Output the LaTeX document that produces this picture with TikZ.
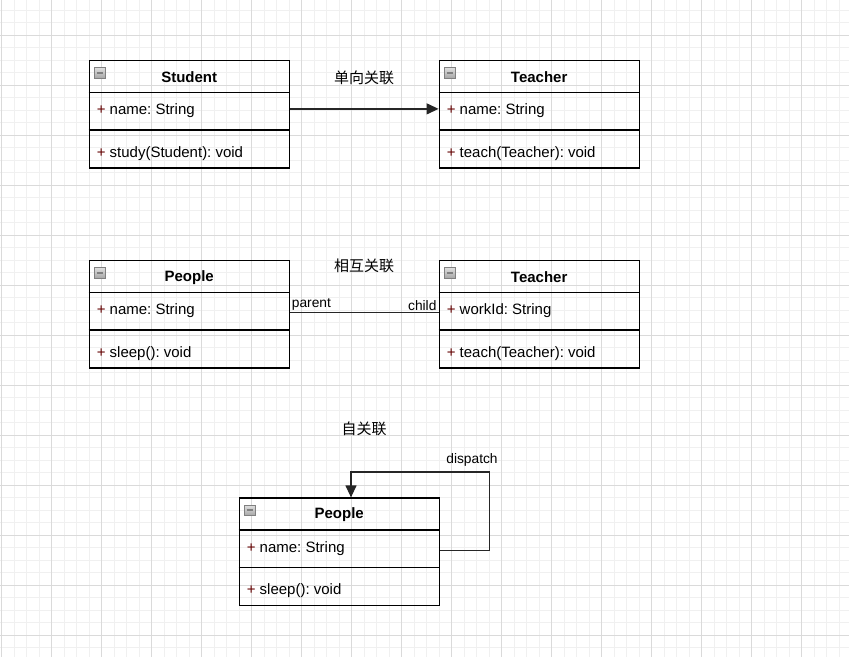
\documentclass[tikz,border=0pt]{standalone}
\usepackage{fontspec}
\setmainfont{Liberation Sans}
\newfontfamily\cjk{Noto Sans CJK SC}
\usetikzlibrary{arrows.meta}
\definecolor{gridminor}{RGB}{240,240,240}
\definecolor{gridmajor}{RGB}{218,218,218}
\definecolor{plusred}{RGB}{100,0,0}
\newcommand{\umlplus}{\textcolor{plusred}{+}}
\frenchspacing
\begin{document}
\begin{tikzpicture}[x=1pt,y=-1pt,
  cls/.style={draw, line width=1.25pt, minimum width=200pt, minimum height=107.5pt, inner sep=0pt},
  ttl/.style={font=\fontsize{15}{18}\selectfont\bfseries, inner sep=0pt},
  mbr/.style={anchor=west, inner sep=0pt, font=\fontsize{15}{18}\selectfont},
  ico/.style={draw=gray, top color=gray!25, bottom color=gray!70, minimum size=10.5pt, inner sep=0pt,
    path picture={\draw[line width=1.8pt] ([xshift=-3pt]path picture bounding box.center) -- ([xshift=3pt]path picture bounding box.center);}},
  assoc/.style={line width=1.25pt, draw=black!85},
  headarr/.style={-{Triangle[length=12pt,width=11pt]}},
  lbl/.style={font=\fontsize{13.75}{16}\selectfont, inner sep=1.5pt},
  cn/.style={font=\cjk\fontsize{15}{18}\selectfont}]
\useasboundingbox (0,0) rectangle (849,657);
\fill[white] (0,0) rectangle (849,657);
% grid
\foreach \gx in {1.7,14.2,...,849} \draw[gridminor, line width=1pt] (\gx,0) -- (\gx,657);
\foreach \gy in {10,22.5,...,657} \draw[gridminor, line width=1pt] (0,\gy) -- (849,\gy);
\foreach \gx in {1.7,51.7,...,849} \draw[gridmajor, line width=1pt] (\gx,0) -- (\gx,657);
\foreach \gy in {35,85,...,657} \draw[gridmajor, line width=1pt] (0,\gy) -- (849,\gy);

% Student
\node[cls] (stu) at (189.2,114.25) {};
\draw[line width=1.25pt] ([yshift=-32.5pt]stu.north west) -- ([yshift=-32.5pt]stu.north east);
\draw[line width=1.25pt] ([yshift=-70pt]stu.north west) -- ([yshift=-70pt]stu.north east);
\node[ico] (stuIco) at ([xshift=11pt,yshift=-13pt]stu.north west) {};
\node[ttl] (stuTtl) at ([yshift=-17.5pt]stu.north) {Student};
\node[mbr] (stuAttr) at ([xshift=8pt,yshift=-51pt]stu.north west) {\umlplus{} name: String};
\node[mbr] (stuOp) at ([xshift=8pt,yshift=-93.5pt]stu.north west) {\umlplus{} study(Student): void};

% Teacher
\node[cls] (tea) at (539.2,114.25) {};
\draw[line width=1.25pt] ([yshift=-32.5pt]tea.north west) -- ([yshift=-32.5pt]tea.north east);
\draw[line width=1.25pt] ([yshift=-70pt]tea.north west) -- ([yshift=-70pt]tea.north east);
\node[ico] (teaIco) at ([xshift=11pt,yshift=-13pt]tea.north west) {};
\node[ttl] (teaTtl) at ([yshift=-17.5pt]tea.north) {Teacher};
\node[mbr] (teaAttr) at ([xshift=8pt,yshift=-51pt]tea.north west) {\umlplus{} name: String};
\node[mbr] (teaOp) at ([xshift=8pt,yshift=-93.5pt]tea.north west) {\umlplus{} teach(Teacher): void};

\node[cn] (oneWay) at (364,78) {单向关联};
\path (stu.north east) ++(0,49) coordinate (oneA);
\draw[assoc,headarr] (oneA) -- (oneA -| tea.west);

% People and Teacher
\node[cls] (ppl) at (189.2,314.25) {};
\draw[line width=1.25pt] ([yshift=-32.5pt]ppl.north west) -- ([yshift=-32.5pt]ppl.north east);
\draw[line width=1.25pt] ([yshift=-70pt]ppl.north west) -- ([yshift=-70pt]ppl.north east);
\node[ico] (pplIco) at ([xshift=11pt,yshift=-13pt]ppl.north west) {};
\node[ttl] (pplTtl) at ([yshift=-17.5pt]ppl.north) {People};
\node[mbr] (pplAttr) at ([xshift=8pt,yshift=-51pt]ppl.north west) {\umlplus{} name: String};
\node[mbr] (pplOp) at ([xshift=8pt,yshift=-93.5pt]ppl.north west) {\umlplus{} sleep(): void};

\node[cls] (wrk) at (539.2,314.25) {};
\draw[line width=1.25pt] ([yshift=-32.5pt]wrk.north west) -- ([yshift=-32.5pt]wrk.north east);
\draw[line width=1.25pt] ([yshift=-70pt]wrk.north west) -- ([yshift=-70pt]wrk.north east);
\node[ico] (wrkIco) at ([xshift=11pt,yshift=-13pt]wrk.north west) {};
\node[ttl] (wrkTtl) at ([yshift=-17.5pt]wrk.north) {Teacher};
\node[mbr] (wrkAttr) at ([xshift=8pt,yshift=-51pt]wrk.north west) {\umlplus{} workId: String};
\node[mbr] (wrkOp) at ([xshift=8pt,yshift=-93.5pt]wrk.north west) {\umlplus{} teach(Teacher): void};

\node[cn] (twoWay) at (364,266) {相互关联};
\path (ppl.north east) ++(0,52.5) coordinate (parL);
\draw[assoc] (parL) -- (parL -| wrk.west)
  node[lbl, pos=0, above right] (parLbl) {parent}
  node[lbl, pos=1, above left] (chdLbl) {child};

% People (self)
\node[cls] (self) at (339.2,551.75) {};
\draw[line width=1.25pt] ([yshift=-32.5pt]self.north west) -- ([yshift=-32.5pt]self.north east);
\draw[line width=1.25pt] ([yshift=-70pt]self.north west) -- ([yshift=-70pt]self.north east);
\node[ico] (selfIco) at ([xshift=11pt,yshift=-13pt]self.north west) {};
\node[ttl] (selfTtl) at ([yshift=-17.5pt]self.north) {People};
\node[mbr] (selfAttr) at ([xshift=8pt,yshift=-51pt]self.north west) {\umlplus{} name: String};
\node[mbr] (selfOp) at ([xshift=8pt,yshift=-93.5pt]self.north west) {\umlplus{} sleep(): void};

\node[cn] (selfLink) at (364,429) {自关联};
\path (self.north east) ++(0,53) coordinate (dspA);
\draw[assoc,headarr] (dspA) -- ++(50,0) -- ++(0,-78.3) -| ([xshift=11.8pt]self.north);
\node[lbl] (dspLbl) at (472,460) {dispatch};
\end{tikzpicture}
\end{document}
